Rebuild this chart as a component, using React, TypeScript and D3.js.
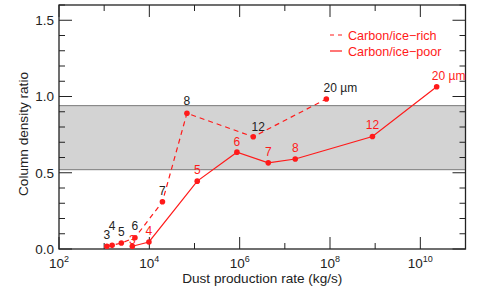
import React, { useEffect, useRef } from 'react';
import * as d3 from 'd3';

// Carbon/ice-rich (dashed) model points
const richRate = [1150, 1500, 2400, 4800, 19500, 6.8e4, 2.0e6, 8.3e7];
const richRatio = [0.018, 0.024, 0.039, 0.074, 0.31, 0.89, 0.736, 0.984];
// Carbon/ice-poor (solid) model points
const poorRate = [4200, 9800, 1.15e5, 8.7e5, 4.3e6, 1.7e7, 8.7e8, 2.3e10];
const poorRatio = [0.018, 0.046, 0.445, 0.635, 0.565, 0.59, 0.738, 1.064];
// grain size labels
const sizeLabels = ['3', '4', '5', '6', '7', '8', '12', '20 \u00b5m'];
// observed range (grey band)
const observedBand = [0.52, 0.94];
const legendNames = ['Carbon/ice\u2212rich', 'Carbon/ice\u2212poor'];

const W = 491, H = 294;
const margin = { top: 5, right: 25.5, bottom: 45, left: 59 };
const FONT = '"Liberation Sans", Arial, Helvetica, sans-serif';

function App() {
  const ref = useRef<SVGSVGElement>(null);

  useEffect(() => {
    const svg = d3.select(ref.current);
    svg.selectAll('*').remove();
    const width = W - margin.left - margin.right;
    const height = H - margin.top - margin.bottom;

    const g = svg.append('g').attr('transform', `translate(${margin.left},${margin.top})`);

    const x = d3.scaleLog().domain([1e2, 1e11]).range([0, width]);
    const y = d3.scaleLinear().domain([0, 1.6]).range([height, 0]);

    // grey band
    g.append('rect')
      .attr('x', 0)
      .attr('width', width)
      .attr('y', y(observedBand[1]))
      .attr('height', y(observedBand[0]) - y(observedBand[1]))
      .attr('fill', '#d3d3d3');
    observedBand.forEach(v => {
      g.append('line')
        .attr('x1', 0).attr('x2', width)
        .attr('y1', y(v)).attr('y2', y(v))
        .attr('stroke', '#7a7a7a').attr('stroke-width', 1);
    });

    // ticks
    const decades = d3.range(2, 12).map(p => Math.pow(10, p));
    const tickG = g.append('g').attr('stroke', '#222').attr('stroke-width', 1);
    decades.forEach((d, i) => {
      const len = i % 2 === 0 ? 12 : 6;
      const xx = x(d);
      tickG.append('line').attr('x1', xx).attr('x2', xx).attr('y1', height).attr('y2', height - len);
      tickG.append('line').attr('x1', xx).attr('x2', xx).attr('y1', 0).attr('y2', len);
    });
    d3.range(0, 17).forEach(i => {
      const v = i / 10;
      const len = i % 5 === 0 ? 13 : 6;
      const yy = y(v);
      tickG.append('line').attr('x1', 0).attr('x2', len).attr('y1', yy).attr('y2', yy);
      tickG.append('line').attr('x1', width).attr('x2', width - len).attr('y1', yy).attr('y2', yy);
    });

    // y tick labels
    g.append('g')
      .selectAll('text')
      .data([0, 0.5, 1, 1.5])
      .enter().append('text')
      .attr('x', -5)
      .attr('y', d => y(d))
      .attr('dy', '0.36em')
      .attr('text-anchor', 'end')
      .attr('font-family', FONT).attr('font-size', 13.5).attr('fill', '#222')
      .text(d => d3.format('.1f')(d));

    // x tick labels (10^n)
    const xl = g.append('g')
      .selectAll('text')
      .data([2, 4, 6, 8, 10])
      .enter().append('text')
      .attr('x', d => x(Math.pow(10, d)))
      .attr('y', height + 19)
      .attr('text-anchor', 'middle')
      .attr('font-family', FONT).attr('font-size', 13.5).attr('fill', '#222');
    xl.append('tspan').text('10');
    xl.append('tspan').attr('dy', -6).attr('font-size', 9).text(d => String(d));

    // frame
    g.append('rect')
      .attr('width', width).attr('height', height)
      .attr('fill', 'none').attr('stroke', '#222').attr('stroke-width', 1.3);

    // axis titles
    g.append('text')
      .attr('x', width / 2).attr('y', height + 34)
      .attr('text-anchor', 'middle')
      .attr('font-family', FONT).attr('font-size', 13.6).attr('fill', '#222')
      .text('Dust production rate (kg/s)');
    g.append('text')
      .attr('transform', `translate(${-31.5},${height / 2 + 7}) rotate(-90)`)
      .attr('text-anchor', 'middle')
      .attr('font-family', FONT).attr('font-size', 13.6).attr('fill', '#222')
      .text('Column density ratio');

    const line = d3.line<[number, number]>().x(d => x(d[0])).y(d => y(d[1]));
    const rich: [number, number][] = richRate.map((r, i) => [r, richRatio[i]]);
    const poor: [number, number][] = poorRate.map((r, i) => [r, poorRatio[i]]);

    g.append('path').datum(rich).attr('d', line)
      .attr('fill', 'none').attr('stroke', '#ff1a1a').attr('stroke-width', 1.2)
      .attr('stroke-dasharray', '5,4');
    g.append('path').datum(poor).attr('d', line)
      .attr('fill', 'none').attr('stroke', '#ff1a1a').attr('stroke-width', 1.2);

    // label nudges [dx, dy above point]
    const richNudge = [[0, 7], [0, 15], [0, 7], [0, 8], [0, 7], [0, 8], [5, 6], [14, 7]];
    const poorNudge = [[0, 2], [0, 7], [0, 7], [0, 6], [0, 7], [0, 7], [0, 7], [12, 7]];

    g.append('g').selectAll('text')
      .data(rich).enter().append('text')
      .attr('x', (d, i) => x(d[0]) + richNudge[i][0])
      .attr('y', (d, i) => y(d[1]) - richNudge[i][1])
      .attr('text-anchor', 'middle')
      .attr('font-family', FONT).attr('font-size', 12).attr('fill', '#222')
      .text((d, i) => sizeLabels[i]);
    g.append('g').selectAll('text')
      .data(poor).enter().append('text')
      .attr('x', (d, i) => x(d[0]) + poorNudge[i][0])
      .attr('y', (d, i) => y(d[1]) - poorNudge[i][1])
      .attr('text-anchor', 'middle')
      .attr('font-family', FONT).attr('font-size', 12).attr('fill', '#ff1a1a')
      .text((d, i) => sizeLabels[i]);

    [rich, poor].forEach(s => {
      g.append('g').selectAll('circle')
        .data(s).enter().append('circle')
        .attr('cx', d => x(d[0])).attr('cy', d => y(d[1]))
        .attr('r', 2.8).attr('fill', '#ff1a1a');
    });

    // legend
    const lg = g.append('g').attr('transform', `translate(${330 - margin.left},${35 - margin.top})`);
    legendNames.forEach((name, i) => {
      lg.append('line')
        .attr('x1', 0).attr('x2', 12).attr('y1', i * 16).attr('y2', i * 16)
        .attr('stroke', '#ff1a1a').attr('stroke-width', 1.2)
        .attr('stroke-dasharray', i === 0 ? '4,4' : null);
      lg.append('text')
        .attr('x', 18).attr('y', i * 16).attr('dy', '0.36em')
        .attr('font-family', FONT).attr('font-size', 12.6).attr('fill', '#ff1a1a')
        .text(name);
    });
  }, []);

  return (
    <svg ref={ref} width={W} height={H}
      style={{ position: 'absolute', left: 0, top: 0, background: '#fff' }} />
  );
}

export default App;
